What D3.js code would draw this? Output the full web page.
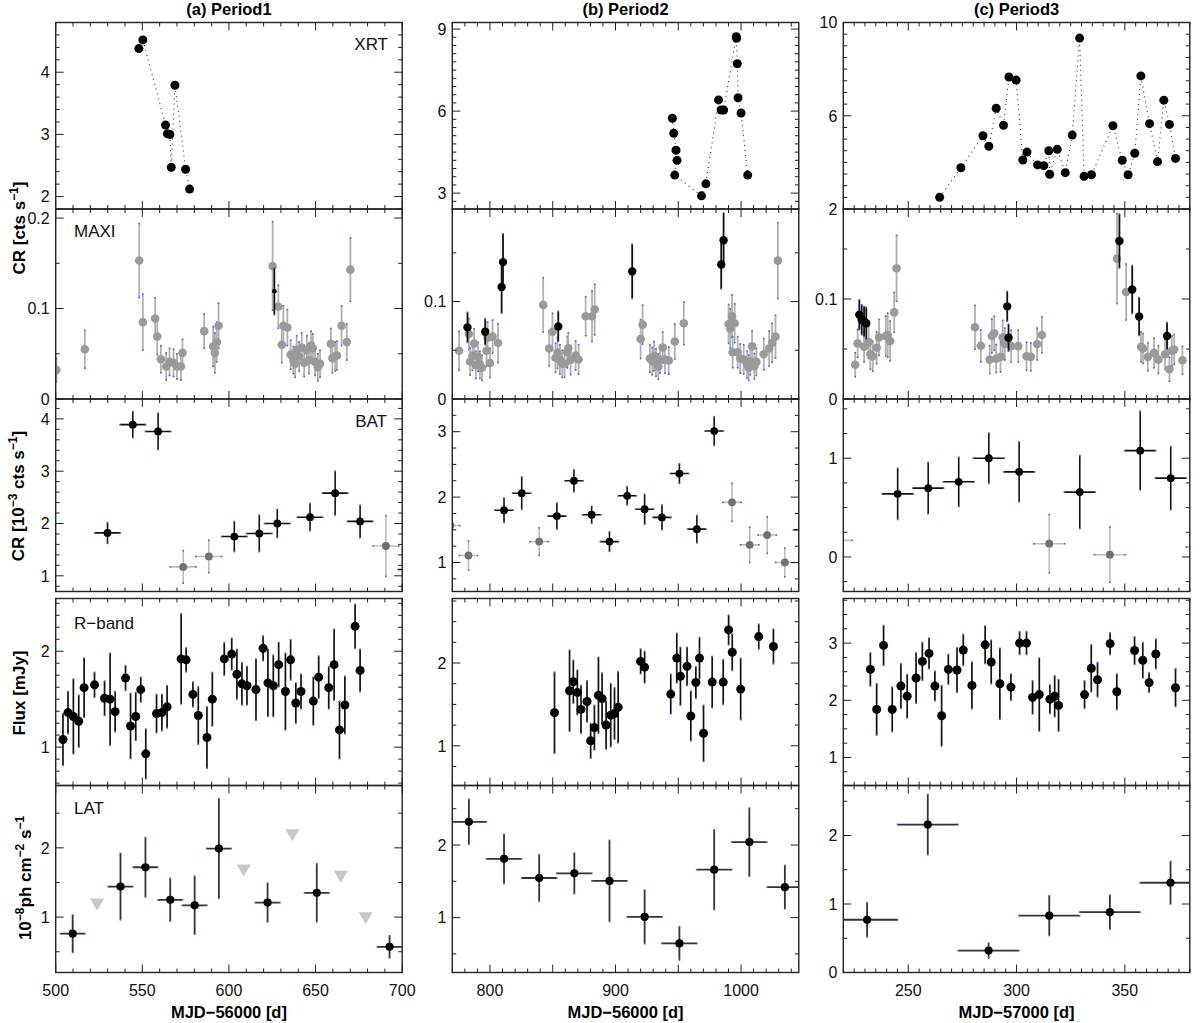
<!DOCTYPE html>
<html>
<head>
<meta charset="utf-8">
<script src="https://cdn.jsdelivr.net/npm/d3@7"></script>
<style>
  body { margin: 0; background: #fff; }
  svg { display: block; }
</style>
</head>
<body>
<svg id="chart" width="1200" height="1023"></svg>
<script>
// ---------------- data (MJD offsets) ----------------

// XRT count rate, dotted connection in array order
const p1XrtDay  = [548.0, 550.3, 563.4, 564.5, 565.9, 566.7, 568.8, 575.0, 577.3]
const p1XrtRate = [4.38, 4.52, 3.15, 3.01, 3.00, 2.47, 3.79, 2.44, 2.12]
const p2XrtDay  = [945.3, 946.4, 948.2, 949.0, 947.2, 968.5, 972.0, 982.1, 984.2, 986.1, 996.2, 996.4, 997.0, 997.6, 1000.0, 1005.3]
const p2XrtRate = [5.74, 5.19, 4.57, 4.20, 3.66, 2.90, 3.34, 6.41, 6.04, 6.04, 8.72, 8.66, 7.73, 6.49, 5.93, 3.66]
const p3XrtDay  = [264.5, 274.3, 284.5, 287.2, 290.6, 294.0, 296.5, 299.8, 302.9, 304.8, 309.7, 312.6, 314.9, 315.3, 318.8,
  322.5, 325.7, 329.1, 331.2, 334.6, 344.5, 348.8, 351.5, 354.6, 357.4, 361.4, 365.1, 368.0, 370.6, 373.4]
const p3XrtRate = [2.50, 3.77, 5.14, 4.69, 6.32, 5.59, 7.66, 7.53, 4.10, 4.44, 3.89, 3.86, 4.50, 3.49, 4.56,
  3.56, 5.17, 9.33, 3.40, 3.47, 5.57, 4.09, 3.47, 4.39, 7.71, 5.66, 4.03, 6.67, 5.63, 4.17]

// MAXI count rate, low-significance points (grey)
const p1MaxiDay  = [500.4, 516.8, 548.2, 550.3, 557.4, 558.6, 560.7, 563.8, 565.7, 568.0, 570.0, 572.3, 573.2, 585.7, 590.9,
  591.9, 593.0, 594.0, 625.2, 628.5, 630.5, 631.4, 633.7, 635.6, 637.2, 638.2, 639.1, 640.5, 642.0, 643.4, 645.0, 646.2,
  647.4, 648.4, 649.7, 651.3, 652.6, 658.8, 659.7, 661.3, 662.3, 665.0, 668.0, 670.1]
const p1MaxiRate = [0.032, 0.055, 0.153, 0.085, 0.089, 0.069, 0.044, 0.036, 0.041, 0.040, 0.036, 0.036, 0.051, 0.075, 0.058,
  0.051, 0.063, 0.081, 0.147, 0.102, 0.060, 0.081, 0.079, 0.049, 0.043, 0.039, 0.054, 0.047, 0.057, 0.040, 0.054, 0.043,
  0.059, 0.056, 0.041, 0.035, 0.039, 0.061, 0.045, 0.047, 0.048, 0.081, 0.063, 0.143]
const p1MaxiErr  = [0.013, 0.021, 0.041, 0.031, 0.023, 0.020, 0.015, 0.015, 0.015, 0.015, 0.014, 0.015, 0.015, 0.019, 0.022,
  0.022, 0.022, 0.025, 0.049, 0.024, 0.020, 0.022, 0.020, 0.016, 0.015, 0.015, 0.016, 0.016, 0.016, 0.015, 0.016, 0.015,
  0.016, 0.016, 0.015, 0.015, 0.015, 0.017, 0.016, 0.016, 0.016, 0.022, 0.020, 0.035]
const p2MaxiDay  = [775.4, 783.2, 784.2, 786.1, 787.4, 788.8, 790.6, 792.0, 793.6, 797.3, 798.1, 800.0, 802.1, 806.4,
  842.4, 847.2, 849.8, 852.2, 853.8, 855.7, 857.6, 859.4, 861.6, 862.4, 864.2, 868.2, 870.6, 876.2, 881.3, 883.4,
  920.0, 921.6, 927.4, 929.3, 930.6, 932.2, 934.1, 935.4, 937.6, 939.4, 942.4, 947.2, 954.4,
  990.1, 991.4, 992.8, 994.9, 993.3, 997.3, 999.4, 1002.1, 1004.8, 1006.1, 1007.4, 1008.8, 1010.6, 1012.2, 1018.1,
  1022.4, 1024.8, 1027.4, 1029.3]
const p2MaxiRate = [0.0495, 0.0667, 0.0385, 0.0443, 0.057, 0.035, 0.0433, 0.035, 0.032, 0.0495, 0.063, 0.037, 0.064, 0.0574,
  0.0966, 0.0519, 0.069, 0.0423, 0.0474, 0.0406, 0.0361, 0.0361, 0.048, 0.052, 0.040, 0.0446, 0.0406, 0.0849, 0.0849, 0.0918,
  0.0615, 0.0763, 0.0415, 0.0388, 0.044, 0.0374, 0.0333, 0.0406, 0.0529, 0.0406, 0.0395, 0.059, 0.0777,
  0.077, 0.0725, 0.0849, 0.0777, 0.048, 0.048, 0.0415, 0.0406, 0.0354, 0.032, 0.0388, 0.054, 0.0337, 0.0381, 0.046,
  0.0519, 0.0577, 0.064, 0.142]
const p2MaxiErr  = [0.020, 0.016, 0.014, 0.015, 0.015, 0.014, 0.015, 0.014, 0.013, 0.016, 0.016, 0.015, 0.017, 0.020,
  0.028, 0.018, 0.019, 0.015, 0.016, 0.015, 0.014, 0.014, 0.016, 0.016, 0.015, 0.015, 0.015, 0.020, 0.026, 0.026,
  0.020, 0.020, 0.014, 0.014, 0.015, 0.014, 0.013, 0.014, 0.016, 0.014, 0.014, 0.018, 0.022,
  0.020, 0.020, 0.022, 0.020, 0.016, 0.016, 0.015, 0.015, 0.014, 0.013, 0.014, 0.016, 0.013, 0.014, 0.016,
  0.018, 0.020, 0.022, 0.039]
const p3MaxiDay  = [225.5, 226.6, 229.6, 231.7, 232.5, 233.6, 235.4, 236.5, 239.6, 240.5, 241.6, 243.5, 244.6,
  280.8, 283.5, 287.6, 288.6, 289.7, 290.6, 292.6, 293.6, 294.6, 297.5, 300.8, 304.6, 306.6, 309.5, 311.7,
  346.4, 350.6, 357.5, 358.4, 360.6, 363.5, 365.5, 368.6, 370.6, 371.7, 372.8, 376.6]
const p3MaxiRate = [0.0343, 0.0556, 0.0522, 0.0566, 0.0448, 0.0428, 0.0512, 0.0616, 0.063, 0.064, 0.058, 0.0866, 0.1307,
  0.0717, 0.0532, 0.0394, 0.063, 0.0657, 0.0404, 0.042, 0.0616, 0.055, 0.0529, 0.0529, 0.0428, 0.0421, 0.055, 0.064,
  0.1404, 0.107, 0.0522, 0.0505, 0.0421, 0.0461, 0.0394, 0.0448, 0.0297, 0.0482, 0.0495, 0.0387]
const p3MaxiErr  = [0.012, 0.014, 0.015, 0.016, 0.015, 0.015, 0.016, 0.018, 0.020, 0.022, 0.020, 0.020, 0.033,
  0.022, 0.016, 0.014, 0.017, 0.017, 0.014, 0.015, 0.017, 0.016, 0.016, 0.016, 0.014, 0.014, 0.016, 0.018,
  0.045, 0.028, 0.015, 0.015, 0.014, 0.015, 0.014, 0.015, 0.012, 0.015, 0.015, 0.014]

// MAXI significant points (black)
const p1MaxiHiDay = [626.2], p1MaxiHiRate = [0.119], p1MaxiHiErr = [0.026]
const p2MaxiHiDay  = [782.1, 796.2, 809.3, 810.4, 854.4, 913.3, 984.2, 986.1]
const p2MaxiHiRate = [0.0735, 0.069, 0.115, 0.1405, 0.0745, 0.131, 0.138, 0.163]
const p2MaxiHiErr  = [0.0155, 0.0134, 0.027, 0.029, 0.0155, 0.028, 0.025, 0.028]
const p3MaxiHiDay  = [227.4, 228.5, 229.6, 230.6, 295.7, 296.3, 347.5, 353.4, 356.6, 369.5]
const p3MaxiHiRate = [0.0842, 0.0792, 0.0775, 0.0758, 0.0926, 0.0613, 0.158, 0.1095, 0.0825, 0.063]
const p3MaxiHiErr  = [0.015, 0.015, 0.015, 0.016, 0.015, 0.0135, 0.027, 0.024, 0.019, 0.0135]

// BAT count rate [1e-3 cts/s], bin half-widths in days; faint = 1 marks grey bins
const batHalfBin = [7.4, 7.3, 7.15]
const p1BatDay   = [529.9, 544.5, 559.1, 573.6, 588.4, 603.1, 617.5, 627.9, 646.8, 661.3, 675.7, 690.6, 705.0]
const p1BatRate  = [1.82, 3.89, 3.76, 1.17, 1.37, 1.75, 1.81, 2.00, 2.12, 2.58, 2.04, 1.57, 1.12]
const p1BatErr   = [0.20, 0.25, 0.35, 0.31, 0.31, 0.29, 0.35, 0.27, 0.26, 0.42, 0.31, 0.58, 0.30]
const p1BatFaint = [0, 0, 0, 1, 1, 0, 0, 0, 0, 0, 0, 1, 0]
const p2BatDay   = [768.6, 782.9, 811.2, 825.3, 839.2, 853.3, 866.9, 881.0, 895.2, 909.3, 923.2, 937.0, 950.9, 964.8,
  978.6, 992.8, 1006.9, 1020.8, 1034.9, 1049.0]
const p2BatRate  = [1.565, 1.107, 1.80, 2.06, 1.32, 1.71, 2.25, 1.73, 1.32, 2.02, 1.815, 1.69, 2.36, 1.51,
  3.01, 1.92, 1.27, 1.42, 1.00, 1.50]
const p2BatErr   = [0.20, 0.22, 0.19, 0.25, 0.21, 0.20, 0.17, 0.13, 0.15, 0.14, 0.23, 0.19, 0.15, 0.21,
  0.22, 0.29, 0.27, 0.28, 0.22, 0.20]
const p2BatFaint = [1, 1, 0, 0, 1, 0, 0, 0, 0, 0, 0, 0, 0, 0, 0, 1, 1, 1, 1, 0]
const p3BatDay   = [217.0, 245.1, 259.2, 273.3, 287.2, 301.2, 315.1, 329.2, 343.1, 357.1, 371.2, 385.5]
const p3BatRate  = [0.168, 0.639, 0.697, 0.761, 1.00, 0.862, 0.134, 0.657, 0.023, 1.077, 0.798, 0.10]
const p3BatErr   = [0.20, 0.26, 0.26, 0.25, 0.255, 0.305, 0.295, 0.37, 0.28, 0.40, 0.32, 0.20]
const p3BatFaint = [1, 0, 0, 0, 0, 0, 1, 0, 1, 0, 0, 1]

// R-band flux [mJy]
const p1RDay  = [504.2, 507.1, 510.2, 513.3, 516.4, 522.4, 528.2, 531.4, 534.3, 540.3, 543.2, 546.2, 549.1, 552.0, 558.2,
  561.3, 564.3, 572.4, 575.3, 579.2, 582.3, 587.3, 590.4, 597.3, 601.6, 604.6, 607.5, 610.4, 615.6, 619.7, 622.5, 625.6,
  628.7, 632.6, 635.6, 638.6, 641.6, 648.7, 651.8, 657.6, 660.7, 663.8, 666.9, 672.8, 675.7]
const p1RFlux = [1.08, 1.36, 1.32, 1.27, 1.62, 1.65, 1.51, 1.50, 1.37, 1.72, 1.22, 1.32, 1.60, 0.93, 1.35,
  1.36, 1.42, 1.92, 1.91, 1.55, 1.33, 1.10, 1.50, 1.92, 1.97, 1.76, 1.66, 1.64, 1.60, 2.03, 1.67, 1.64,
  1.86, 1.58, 1.91, 1.46, 1.58, 1.48, 1.73, 1.62, 1.86, 1.18, 1.44, 2.26, 1.80]
const p1RErr  = [0.27, 0.22, 0.39, 0.27, 0.31, 0.13, 0.18, 0.48, 0.21, 0.13, 0.34, 0.25, 0.13, 0.26, 0.20,
  0.19, 0.22, 0.47, 0.125, 0.13, 0.30, 0.32, 0.28, 0.17, 0.165, 0.26, 0.22, 0.20, 0.32, 0.13, 0.35, 0.32,
  0.23, 0.40, 0.21, 0.21, 0.18, 0.25, 0.22, 0.22, 0.37, 0.30, 0.30, 0.23, 0.22]
const p2RDay  = [851.4, 863.4, 866.4, 869.6, 872.5, 877.3, 880.2, 883.2, 886.4, 889.3, 892.5, 896.2, 899.2, 902.1,
  920.0, 923.2, 944.0, 948.8, 951.7, 957.0, 960.0, 964.0, 966.9, 970.1, 977.0, 985.8, 990.1, 993.0, 999.7,
  1014.1, 1025.8]
const p2RFlux = [1.40, 1.665, 1.774, 1.645, 1.44, 1.535, 1.06, 1.22, 1.61, 1.57, 1.25, 1.37, 1.39, 1.465,
  2.02, 1.95, 1.625, 2.06, 1.84, 1.96, 1.36, 1.765, 2.06, 1.15, 1.77, 1.77, 2.40, 2.13, 1.685, 2.32, 2.20]
const p2RErr  = [0.49, 0.49, 0.26, 0.27, 0.29, 0.25, 0.21, 0.27, 0.46, 0.31, 0.29, 0.38, 0.31, 0.43,
  0.15, 0.19, 0.24, 0.30, 0.35, 0.23, 0.30, 0.19, 0.25, 0.34, 0.31, 0.27, 0.18, 0.22, 0.37, 0.15, 0.21]
const p3RDay  = [232.5, 235.4, 238.6, 242.6, 246.6, 249.5, 253.6, 256.5, 259.6, 262.3, 265.4, 268.5, 272.5, 275.4,
  279.4, 285.5, 288.3, 292.3, 297.4, 301.4, 304.6, 307.4, 310.5, 315.4, 317.6, 319.4, 331.4, 334.5, 337.4,
  343.2, 346.3, 354.5, 358.3, 361.2, 364.3, 373.4]
const p3RFlux = [2.54, 1.84, 2.96, 1.84, 2.25, 2.07, 2.39, 2.68, 2.82, 2.25, 1.73, 2.54, 2.53, 2.88,
  2.26, 2.97, 2.67, 2.29, 2.23, 3.00, 3.00, 2.05, 2.10, 2.02, 2.07, 1.91, 2.10, 2.56, 2.36,
  2.99, 2.15, 2.87, 2.70, 2.31, 2.81, 2.22]
const p3RErr  = [0.29, 0.45, 0.35, 0.39, 0.39, 0.38, 0.44, 0.33, 0.27, 0.26, 0.53, 0.26, 0.39, 0.27,
  0.41, 0.33, 0.38, 0.62, 0.23, 0.20, 0.20, 0.29, 0.64, 0.25, 0.36, 0.45, 0.24, 0.41, 0.30,
  0.19, 0.31, 0.24, 0.31, 0.17, 0.26, 0.33]

// LAT flux [1e-8 ph/cm2/s], bin half-widths in days, grey triangles are upper limits
const latHalfBin = [7.1, 14, 14]
const p1LatDay  = [509.8, 537.4, 551.8, 566.1, 580.2, 594.2, 622.3, 650.7, 692.7]
const p1LatFlux = [0.76, 1.44, 1.72, 1.25, 1.17, 1.99, 1.21, 1.35, 0.57]
const p1LatErr  = [0.27, 0.48, 0.43, 0.31, 0.42, 0.72, 0.28, 0.42, 0.16]
const p1LatUlDay  = [523.9, 608.5, 636.6, 664.6, 678.9]
const p1LatUlFlux = [1.19, 1.68, 2.19, 1.59, 0.99]
const p2LatDay  = [783.2, 811.2, 839.2, 867.2, 895.2, 923.2, 950.9, 978.6, 1006.6, 1034.9]
const p2LatFlux = [2.32, 1.81, 1.546, 1.61, 1.505, 1.01, 0.645, 1.66, 2.04, 1.42]
const p2LatErr  = [0.31, 0.34, 0.32, 0.28, 0.56, 0.37, 0.23, 0.55, 0.47, 0.30]
const p3LatDay  = [231.0, 259.0, 287.1, 315.1, 343.1, 371.1]
const p3LatFlux = [0.77, 2.16, 0.32, 0.83, 0.88, 1.31]
const p3LatErr  = [0.25, 0.44, 0.11, 0.29, 0.25, 0.31]

// axis labels
const colTitles = ['(a) Period1', '(b) Period2', '(c) Period3']
const xTitles   = ['MJD\u221256000 [d]', 'MJD\u221256000 [d]', 'MJD\u221257000 [d]']
const xTickVals = [[500, 550, 600, 650, 700], [800, 900, 1000], [250, 300, 350]]
const yTickVals = [
  [[2, 3, 4], [0, 0.1, 0.2], [1, 2, 3, 4], [1, 2], [1, 2]],
  [[3, 6, 9], [0, 0.1], [1, 2, 3], [1, 2], [1, 2]],
  [[2, 6, 10], [0, 0.1], [0, 1], [1, 2, 3], [0, 1, 2]]
]
const bandNames = ['XRT', 'MAXI', 'BAT', 'R\u2212band', 'LAT']

// ---------------- layout ----------------
const FONT = '"Liberation Sans", Arial, Helvetica, sans-serif'
const colLeft = [55.7, 452.3, 843.3], colW = 346.5
const rowTop = [22.5, 209, 399, 598.5, 785.5]
const rowBot = [209, 399, 591.5, 785.5, 972.5]
const xDom = [[500, 700], [770, 1046], [220, 380]]
const xMinor = [10, 10, 5]
const yDom = [
  [[1.8, 4.8], [0, 0.21], [0.7, 4.38], [0.6, 2.55], [0.2, 2.9]],
  [[2.42, 9.24], [0, 0.195], [0.557, 3.5], [0.52, 2.78], [0.244, 2.82]],
  [[2, 10], [0, 0.19], [-0.35, 1.6], [0.51, 3.78], [0, 2.73]]
]
const yMinor = [
  [0.2, 0.05, 0.2, 0.125, 0.5],
  [0.3, 0.05, 0.25, 0.25, 0.5],
  [0.5, 0.05, 0.25, 0.25, 0.5]
]
const CAP = '#4a5cff'

const svg = d3.select('#chart')
const defs = svg.append('defs')

function makePanel(c, r) {
  const x = d3.scaleLinear().domain(xDom[c]).range([colLeft[c], colLeft[c] + colW])
  const y = d3.scaleLinear().domain(yDom[c][r]).range([rowBot[r], rowTop[r]])
  const id = 'clip' + c + r
  defs.append('clipPath').attr('id', id).append('rect')
    .attr('x', colLeft[c]).attr('y', rowTop[r])
    .attr('width', colW).attr('height', rowBot[r] - rowTop[r])
  const g = svg.append('g')
  const plot = g.append('g').attr('clip-path', `url(#${id})`)
  return { x, y, g, plot, c, r }
}

function drawFrame(p) {
  const { x, y, g, c, r } = p
  const [x0, x1] = x.range(), [yb, yt] = y.range()
  const ax = g.append('g').attr('stroke', '#222').attr('stroke-width', 1)
  const xd = x.domain()
  for (let n = Math.ceil(xd[0] / xMinor[c] - 1e-9); n * xMinor[c] <= xd[1] + 1e-9; n++) {
    const v = n * xMinor[c], L = v % 50 === 0 ? 8 : 4, px = x(v)
    ax.append('line').attr('x1', px).attr('x2', px).attr('y1', yb).attr('y2', yb - L)
    ax.append('line').attr('x1', px).attr('x2', px).attr('y1', yt).attr('y2', yt + L)
  }
  const yd = y.domain(), st = yMinor[c][r], majors = yTickVals[c][r]
  for (let n = Math.ceil(yd[0] / st - 1e-9); n * st <= yd[1] + 1e-9; n++) {
    const v = n * st
    const L = majors.some(m => Math.abs(m - v) < 1e-6) ? 8 : 4
    const py = y(v)
    ax.append('line').attr('x1', x0).attr('x2', x0 + L).attr('y1', py).attr('y2', py)
    ax.append('line').attr('x1', x1).attr('x2', x1 - L).attr('y1', py).attr('y2', py)
  }
  g.append('rect').attr('x', x0).attr('y', yt).attr('width', x1 - x0).attr('height', yb - yt)
    .attr('fill', 'none').attr('stroke', '#222').attr('stroke-width', 1.4)
  g.append('g').selectAll('text').data(majors).join('text')
    .attr('x', x0 - 6).attr('y', d => y(d)).attr('dy', '0.36em')
    .attr('text-anchor', 'end').attr('font-family', FONT).attr('font-size', 16).attr('fill', '#111')
    .text(d => String(d))
  if (r === 4) {
    g.append('g').selectAll('text').data(xTickVals[c]).join('text')
      .attr('x', d => x(d)).attr('y', 996)
      .attr('text-anchor', 'middle').attr('font-family', FONT).attr('font-size', 16).attr('fill', '#111')
      .text(d => String(d))
  }
}

// vertical (and optional horizontal) error bars with small blue end marks
function errBars(p, days, vals, errs, xHalf, col, width) {
  const { x, y, plot } = p
  const eg = plot.append('g')
  const cap = (cx, cy) => eg.append('rect').attr('x', cx - 0.8).attr('y', cy - 0.8)
    .attr('width', 1.6).attr('height', 1.6).attr('fill', CAP)
  days.forEach((d, i) => {
    const cx = x(d), y1 = y(vals[i] - errs[i]), y2 = y(vals[i] + errs[i])
    eg.append('line').attr('x1', cx).attr('x2', cx).attr('y1', y1).attr('y2', y2)
      .attr('stroke', col[i]).attr('stroke-width', width)
    cap(cx, y1); cap(cx, y2)
    if (xHalf) {
      const xa = x(d - xHalf), xb = x(d + xHalf), cy = y(vals[i])
      eg.append('line').attr('x1', xa).attr('x2', xb).attr('y1', cy).attr('y2', cy)
        .attr('stroke', col[i]).attr('stroke-width', width)
      cap(xa, cy); cap(xb, cy)
    }
  })
}

function dots(p, days, vals, r, fill) {
  p.plot.append('g').selectAll('circle').data(days).join('circle')
    .attr('cx', d => p.x(d)).attr('cy', (d, i) => p.y(vals[i]))
    .attr('r', r).attr('fill', typeof fill === 'function' ? (d, i) => fill(i) : fill)
}

// ---------------- panels ----------------
const xrt = [[p1XrtDay, p1XrtRate], [p2XrtDay, p2XrtRate], [p3XrtDay, p3XrtRate]]
const maxi = [[p1MaxiDay, p1MaxiRate, p1MaxiErr], [p2MaxiDay, p2MaxiRate, p2MaxiErr], [p3MaxiDay, p3MaxiRate, p3MaxiErr]]
const maxiHi = [[p1MaxiHiDay, p1MaxiHiRate, p1MaxiHiErr], [p2MaxiHiDay, p2MaxiHiRate, p2MaxiHiErr], [p3MaxiHiDay, p3MaxiHiRate, p3MaxiHiErr]]
const bat = [[p1BatDay, p1BatRate, p1BatErr, p1BatFaint], [p2BatDay, p2BatRate, p2BatErr, p2BatFaint], [p3BatDay, p3BatRate, p3BatErr, p3BatFaint]]
const rband = [[p1RDay, p1RFlux, p1RErr], [p2RDay, p2RFlux, p2RErr], [p3RDay, p3RFlux, p3RErr]]
const lat = [[p1LatDay, p1LatFlux, p1LatErr], [p2LatDay, p2LatFlux, p2LatErr], [p3LatDay, p3LatFlux, p3LatErr]]

for (let c = 0; c < 3; c++) {
  // XRT
  let p = makePanel(c, 0)
  const [xd, xv] = xrt[c]
  p.plot.append('path')
    .attr('d', d3.line().x((d, i) => p.x(xd[i])).y((d, i) => p.y(xv[i]))(xd))
    .attr('fill', 'none').attr('stroke', '#333').attr('stroke-width', 1.1).attr('stroke-dasharray', '1 4')
  dots(p, xd, xv, 4.5, '#000')
  drawFrame(p)

  // MAXI
  p = makePanel(c, 1)
  const [md, mv, me] = maxi[c]
  errBars(p, md, mv, me, 0, md.map(() => '#b0b0b0'), 1.8)
  dots(p, md, mv, 4.3, '#9a9a9a')
  const [hd, hv, he] = maxiHi[c]
  errBars(p, hd, hv, he, 0, hd.map(() => '#111'), 1.8)
  dots(p, hd, hv, c === 0 ? 2.4 : 4.2, '#000')
  drawFrame(p)

  // BAT
  p = makePanel(c, 2)
  const [bd, bv, be, bf] = bat[c]
  errBars(p, bd, bv, be, batHalfBin[c], bf.map(f => f ? '#bdbdbd' : '#111'), 1.6)
  dots(p, bd, bv, 3.9, i => bf[i] ? '#707070' : '#000')
  drawFrame(p)

  // R-band
  p = makePanel(c, 3)
  const [rd, rv, re] = rband[c]
  errBars(p, rd, rv, re, 0, rd.map(() => '#111'), 1.7)
  dots(p, rd, rv, 4.5, '#000')
  drawFrame(p)

  // LAT
  p = makePanel(c, 4)
  if (c === 0) {
    p.plot.append('g').selectAll('path').data(p1LatUlDay).join('path')
      .attr('transform', (d, i) => `translate(${p.x(d)},${p.y(p1LatUlFlux[i])})`)
      .attr('d', 'M-7,-5.5L7,-5.5L0,6.5Z').attr('fill', '#c8c8c8')
  }
  const [ld, lv, le] = lat[c]
  errBars(p, ld, lv, le, latHalfBin[c], ld.map(() => '#333'), 1.8)
  dots(p, ld, lv, 4.1, '#000')
  drawFrame(p)

  // column title and x title
  const cx = colLeft[c] + colW / 2
  svg.append('text').attr('x', cx).attr('y', 15).attr('text-anchor', 'middle')
    .attr('font-family', FONT).attr('font-size', 16.5).attr('font-weight', 'bold').text(colTitles[c])
  svg.append('text').attr('x', cx).attr('y', 1018).attr('text-anchor', 'middle')
    .attr('font-family', FONT).attr('font-size', 16.5).attr('font-weight', 'bold').text(xTitles[c])
}

// band names in the first column
const bandPos = [
  { x: 388, y: 50, a: 'end' }, { x: 74, y: 237, a: 'start' }, { x: 387, y: 427, a: 'end' },
  { x: 74, y: 629, a: 'start' }, { x: 74, y: 814, a: 'start' }
]
bandNames.forEach((n, i) => {
  svg.append('text').attr('x', bandPos[i].x).attr('y', bandPos[i].y).attr('text-anchor', bandPos[i].a)
    .attr('font-family', FONT).attr('font-size', 17).attr('fill', '#111').text(n)
})

// rotated y titles; parts flagged true are superscripts
function yTitle(tx, cy, parts) {
  const t = svg.append('text').attr('transform', `translate(${tx},${cy}) rotate(-90)`)
    .attr('text-anchor', 'middle').attr('font-family', FONT).attr('font-size', 17).attr('font-weight', 'bold')
  let raised = false
  parts.forEach(([s, sup]) => {
    const ts = t.append('tspan').text(s)
    if (sup) { ts.attr('font-size', 12).attr('dy', raised ? 0 : -7); raised = true }
    else if (raised) { ts.attr('dy', 7); raised = false }
  })
}
yTitle(25, 228, [['CR [cts s'], ['\u22121', true], [']']])
yTitle(24, 496, [['CR [10'], ['\u22123', true], [' cts s'], ['\u22121', true], [']']])
yTitle(25, 693, [['Flux [mJy]']])
yTitle(31, 878, [['10'], ['\u22128', true], ['ph cm'], ['\u22122', true], [' s'], ['\u22121', true]])
</script>
</body>
</html>
